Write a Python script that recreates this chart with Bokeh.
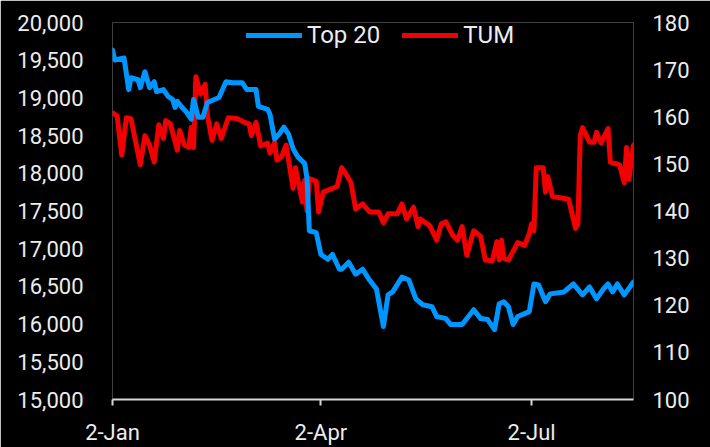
from datetime import datetime
from bokeh.plotting import figure
from bokeh.models import (Range1d, LinearAxis, FixedTicker, NumeralTickFormatter,
                          Legend, LegendItem, ColumnDataSource)
from bokeh.embed import file_html
from bokeh.resources import INLINE

# ---------------- data ----------------
top20_dates = [
    "2018-01-02", "2018-01-03", "2018-01-07", "2018-01-09", "2018-01-10", "2018-01-13",
    "2018-01-14", "2018-01-16", "2018-01-18", "2018-01-20", "2018-01-21", "2018-01-24",
    "2018-01-26", "2018-01-28", "2018-01-29", "2018-01-30", "2018-02-01", "2018-02-03",
    "2018-02-05", "2018-02-06", "2018-02-08", "2018-02-10", "2018-02-12", "2018-02-17",
    "2018-02-20", "2018-02-23", "2018-02-27", "2018-03-01", "2018-03-05", "2018-03-06",
    "2018-03-10", "2018-03-11", "2018-03-13", "2018-03-15", "2018-03-17", "2018-03-19",
    "2018-03-21", "2018-03-23", "2018-03-26", "2018-03-27", "2018-03-28", "2018-03-31",
    "2018-04-02", "2018-04-05", "2018-04-07", "2018-04-10", "2018-04-11", "2018-04-14",
    "2018-04-17", "2018-04-20", "2018-04-23", "2018-04-26", "2018-04-29", "2018-05-01",
    "2018-05-03", "2018-05-07", "2018-05-10", "2018-05-13", "2018-05-16", "2018-05-20",
    "2018-05-22", "2018-05-26", "2018-05-28", "2018-06-02", "2018-06-07", "2018-06-10",
    "2018-06-13", "2018-06-16", "2018-06-18", "2018-06-20", "2018-06-22", "2018-06-24",
    "2018-06-26", "2018-06-29", "2018-07-01", "2018-07-03", "2018-07-05", "2018-07-08",
    "2018-07-10", "2018-07-16", "2018-07-20", "2018-07-24", "2018-07-27", "2018-07-30",
    "2018-08-02", "2018-08-04", "2018-08-06", "2018-08-08", "2018-08-11", "2018-08-15",
]
top20_values = [
    19634, 19503, 19529, 19110, 19267, 19241,
    19136, 19346, 19136, 19215, 19084, 19110,
    19019, 18979, 18875, 18953, 18875, 18809,
    18718, 18979, 18744, 18744, 18940, 19006,
    19215, 19202, 19202, 19110, 19110, 18888,
    18848, 18783, 18456, 18521, 18613, 18521,
    18325, 18220, 18129, 17932, 17238, 17212,
    16924, 16859, 16924, 16728, 16728, 16820,
    16662, 16728, 16584, 16466, 15969, 16388,
    16427, 16623, 16584, 16335, 16257, 16230,
    16100, 16073, 15995, 15995, 16191, 16073,
    16060, 15929, 16270, 16296, 16230, 15995,
    16100, 16139, 16165, 16532, 16518, 16296,
    16401, 16427, 16532, 16388, 16492, 16335,
    16466, 16532, 16427, 16532, 16388, 16558,
]

tum_dates = [
    "2018-01-02", "2018-01-04", "2018-01-06", "2018-01-08", "2018-01-10", "2018-01-14",
    "2018-01-16", "2018-01-18", "2018-01-20", "2018-01-22", "2018-01-24", "2018-01-25",
    "2018-01-27", "2018-01-30", "2018-01-31", "2018-02-02", "2018-02-04", "2018-02-05",
    "2018-02-06", "2018-02-07", "2018-02-09", "2018-02-11", "2018-02-12", "2018-02-14",
    "2018-02-16", "2018-02-18", "2018-02-21", "2018-02-25", "2018-02-28", "2018-03-02",
    "2018-03-03", "2018-03-05", "2018-03-07", "2018-03-10", "2018-03-11", "2018-03-13",
    "2018-03-14", "2018-03-16", "2018-03-18", "2018-03-21", "2018-03-22", "2018-03-25",
    "2018-03-26", "2018-03-27", "2018-03-28", "2018-03-31", "2018-04-01", "2018-04-03",
    "2018-04-09", "2018-04-11", "2018-04-13", "2018-04-15", "2018-04-17", "2018-04-20",
    "2018-04-23", "2018-04-27", "2018-04-29", "2018-05-01", "2018-05-05", "2018-05-07",
    "2018-05-09", "2018-05-12", "2018-05-14", "2018-05-15", "2018-05-19", "2018-05-22",
    "2018-05-24", "2018-05-26", "2018-05-29", "2018-05-31", "2018-06-02", "2018-06-04",
    "2018-06-07", "2018-06-10", "2018-06-12", "2018-06-15", "2018-06-17", "2018-06-18",
    "2018-06-19", "2018-06-20", "2018-06-22", "2018-06-26", "2018-06-29", "2018-07-01",
    "2018-07-02", "2018-07-03", "2018-07-04", "2018-07-07", "2018-07-08", "2018-07-09",
    "2018-07-11", "2018-07-13", "2018-07-18", "2018-07-19", "2018-07-21", "2018-07-22",
    "2018-07-23", "2018-07-24", "2018-07-27", "2018-07-29", "2018-07-30", "2018-08-01",
    "2018-08-04", "2018-08-05", "2018-08-09", "2018-08-11", "2018-08-12", "2018-08-13",
    "2018-08-15",
]
tum_values = [
    160.8, 160.2, 151.9, 159.8, 159.6, 149.8,
    156.0, 154.0, 150.4, 158.3, 155.4, 159.2,
    158.5, 152.9, 157.1, 154.0, 153.5, 157.7,
    153.5, 168.5, 164.8, 166.9, 160.2, 155.0,
    158.5, 155.4, 159.8, 159.6, 158.8, 158.5,
    156.0, 158.8, 153.8, 154.4, 152.3, 154.6,
    150.8, 151.5, 154.0, 144.8, 149.2, 141.9,
    146.5, 140.0, 146.9, 146.3, 139.8, 144.0,
    145.2, 149.2, 147.7, 146.0, 140.4, 141.5,
    139.8, 139.8, 137.5, 139.4, 139.4, 141.5,
    138.3, 140.8, 136.7, 138.3, 136.9, 133.8,
    137.3, 137.7, 134.8, 133.8, 136.7, 130.6,
    135.8, 134.6, 129.6, 129.4, 133.5, 129.6,
    133.8, 130.0, 129.6, 133.3, 132.7, 135.2,
    137.3, 135.8, 149.2, 149.2, 144.0, 147.3,
    143.1, 142.9, 142.5, 140.4, 136.3, 137.3,
    156.0, 157.7, 154.6, 154.6, 156.7, 154.4,
    157.5, 150.4, 149.8, 146.0, 153.5, 146.7,
    154.0,
]

series_names = ["Top 20", "TUM"]
series_colors = ["#0096ff", "#f00000"]

left_ticks = [15000, 15500, 16000, 16500, 17000, 17500, 18000, 18500, 19000, 19500, 20000]
right_ticks = [100, 110, 120, 130, 140, 150, 160, 170, 180]
x_tick_dates = ["2018-01-02", "2018-04-02", "2018-07-02"]
x_tick_labels = ["2-Jan", "2-Apr", "2-Jul"]

# ---------------- helpers ----------------
def to_dt(s):
    return datetime.strptime(s, "%Y-%m-%d")

def to_ms(s):
    return (to_dt(s) - datetime(1970, 1, 1)).total_seconds() * 1000.0

FONT = "Roboto"
TXT = "#ececec"
AXC = "#d6d6d6"

p = figure(width=710, height=447, x_axis_type="datetime",
           output_backend="svg", toolbar_location=None,
           background_fill_color="#000000", border_fill_color="#000000",
           outline_line_color=None,
           min_border_left=112, min_border_right=77,
           min_border_top=22, min_border_bottom=43)

p.x_range = Range1d(to_dt(top20_dates[0]), to_dt(top20_dates[-1]))
p.y_range = Range1d(left_ticks[0], left_ticks[-1])
p.extra_y_ranges = {"right": Range1d(right_ticks[0], right_ticks[-1])}

p.xgrid.visible = False
p.ygrid.visible = False

# x axis
xa = p.xaxis[0]
xa.ticker = FixedTicker(ticks=[to_ms(d) for d in x_tick_dates], minor_ticks=[])
xa.major_label_overrides = {to_ms(d): lab for d, lab in zip(x_tick_dates, x_tick_labels)}
xa.axis_line_color = AXC
xa.axis_line_width = 2
xa.major_tick_line_color = AXC
xa.major_tick_line_width = 2
xa.major_tick_out = 6
xa.major_tick_in = 0
xa.minor_tick_line_color = None
xa.major_label_text_color = TXT
xa.major_label_text_font = FONT
xa.major_label_text_font_size = "22px"
xa.major_label_standoff = 14

# left axis
ya = p.yaxis[0]
ya.ticker = FixedTicker(ticks=left_ticks, minor_ticks=[])
ya.formatter = NumeralTickFormatter(format="0,0")
ya.axis_line_color = None
ya.major_tick_line_color = None
ya.minor_tick_line_color = None
ya.major_tick_out = 0
ya.major_tick_in = 0
ya.major_label_text_color = TXT
ya.major_label_text_font = FONT
ya.major_label_text_font_size = "22px"
ya.major_label_standoff = 29

# right axis
ra = LinearAxis(y_range_name="right",
                ticker=FixedTicker(ticks=right_ticks, minor_ticks=[]))
ra.axis_line_color = None
ra.major_tick_line_color = None
ra.minor_tick_line_color = None
ra.major_tick_out = 0
ra.major_tick_in = 0
ra.major_label_text_color = TXT
ra.major_label_text_font = FONT
ra.major_label_text_font_size = "22px"
ra.major_label_standoff = 19
p.add_layout(ra, "right")

src1 = ColumnDataSource(dict(x=[to_dt(d) for d in top20_dates], y=top20_values))
src2 = ColumnDataSource(dict(x=[to_dt(d) for d in tum_dates], y=tum_values))

r2 = p.line("x", "y", source=src2, y_range_name="right",
            line_color=series_colors[1], line_width=5,
            line_join="round", line_cap="round")
r1 = p.line("x", "y", source=src1,
            line_color=series_colors[0], line_width=5,
            line_join="round", line_cap="round")

legend = Legend(items=[LegendItem(label=series_names[0], renderers=[r1]),
                       LegendItem(label=series_names[1], renderers=[r2])],
                orientation="horizontal", location=(134, 350),
                background_fill_alpha=0, border_line_color=None,
                label_text_color=TXT, label_text_font=FONT,
                label_text_font_size="24px",
                glyph_width=56, glyph_height=28, label_standoff=5,
                spacing=22, padding=2, margin=0)
p.add_layout(legend, "center")

open("out.html", "w").write(file_html(p, INLINE))
